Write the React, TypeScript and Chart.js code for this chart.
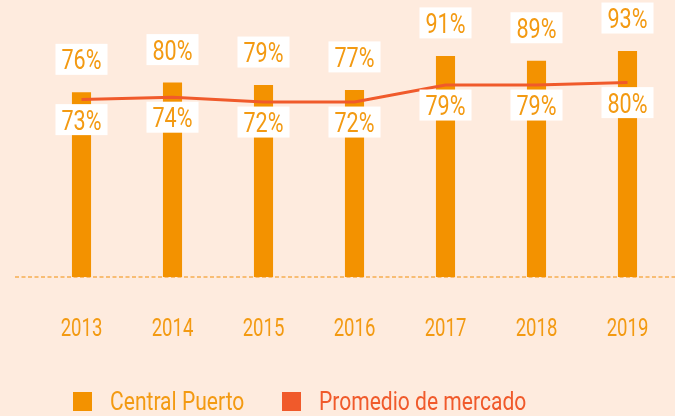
import React, { useEffect, useRef } from 'react';
import { Chart, registerables } from 'chart.js';

Chart.register(...registerables);

const years = ['2013', '2014', '2015', '2016', '2017', '2018', '2019'];
const centralPuerto = [76, 80, 79, 77, 91, 89, 93];
const promedioMercado = [73, 74, 72, 72, 79, 79, 80];
const seriesNames = ['Central Puerto', 'Promedio de mercado'];

const FONT = 'Roboto, "Noto Sans", sans-serif';
const BG = '#FEEBDE';
const ORANGE = '#F39200';
const RED = '#F05A2B';
const LABEL = '#F39A12';

// Draw horizontally condensed text (reference uses a condensed typeface)
function condensedText(
  ctx: CanvasRenderingContext2D,
  text: string,
  x: number,
  y: number,
  size: number,
  sx: number,
  color: string,
  align: CanvasTextAlign
) {
  ctx.save();
  ctx.font = `${size}px ${FONT}`;
  ctx.fillStyle = color;
  ctx.textAlign = align;
  ctx.textBaseline = 'alphabetic';
  ctx.translate(x, y);
  ctx.scale(sx, 1);
  ctx.fillText(text, 0, 0);
  ctx.restore();
}

function measureCondensed(ctx: CanvasRenderingContext2D, text: string, size: number, sx: number) {
  ctx.save();
  ctx.font = `${size}px ${FONT}`;
  const w = ctx.measureText(text).width * sx;
  ctx.restore();
  return w;
}

function drawBox(ctx: CanvasRenderingContext2D, text: string, cx: number, cy: number) {
  const size = 28;
  const sx = 0.77;
  const tw = measureCondensed(ctx, text, size, sx);
  const w = tw + 12;
  const h = 31;
  ctx.fillStyle = '#FFFFFF';
  ctx.fillRect(cx - w / 2, cy - h / 2, w, h);
  condensedText(ctx, text, cx, cy + 10, size, sx, LABEL, 'center');
}

const decorPlugin = {
  id: 'decor',
  beforeDraw(chart: any) {
    const ctx = chart.ctx;
    ctx.save();
    ctx.fillStyle = BG;
    ctx.fillRect(0, 0, chart.width, chart.height);
    ctx.restore();
  },
  beforeDatasetsDraw(chart: any) {
    const ctx = chart.ctx;
    const y = chart.scales.y.getPixelForValue(0);
    ctx.save();
    ctx.strokeStyle = '#F6AE52';
    ctx.lineWidth = 1.5;
    ctx.setLineDash([4, 2.5]);
    ctx.beginPath();
    ctx.moveTo(15, y);
    ctx.lineTo(chart.width, y);
    ctx.stroke();
    ctx.restore();
  },
  afterDatasetsDraw(chart: any) {
    const ctx = chart.ctx;
    ctx.save();
    chart.getDatasetMeta(0).data.forEach((bar: any, i: number) => {
      drawBox(ctx, `${centralPuerto[i]}%`, bar.x, bar.y - 33);
    });
    chart.getDatasetMeta(1).data.forEach((pt: any, i: number) => {
      drawBox(ctx, `${promedioMercado[i]}%`, pt.x, pt.y + 20);
    });
    // category labels along the x scale
    const xs = chart.scales.x;
    const base = chart.scales.y.getPixelForValue(0);
    years.forEach((yr, i) => {
      condensedText(ctx, yr, xs.getPixelForValue(i), base + 59, 26.5, 0.7, LABEL, 'center');
    });
    // legend
    const colors = [ORANGE, RED];
    const textColors = [LABEL, RED];
    const starts = [73, 282];
    seriesNames.forEach((name, i) => {
      ctx.fillStyle = colors[i];
      ctx.fillRect(starts[i], base + 115, 19, 19);
      condensedText(ctx, name, starts[i] + 37, base + 133, 26, 0.81, textColors[i], 'left');
    });
    ctx.restore();
  },
};

export default function App() {
  const ref = useRef<HTMLCanvasElement>(null);
  useEffect(() => {
    document.body.style.margin = '0';
    document.body.style.background = BG;
    const chart = new Chart(ref.current!, {
      type: 'bar',
      data: {
        labels: years,
        datasets: [
          {
            type: 'bar',
            label: seriesNames[0],
            data: centralPuerto,
            backgroundColor: ORANGE,
            barPercentage: 0.21,
            categoryPercentage: 1,
            order: 1,
          },
          {
            type: 'line',
            label: seriesNames[1],
            data: promedioMercado,
            borderColor: RED,
            backgroundColor: RED,
            borderWidth: 3,
            pointRadius: 0,
            tension: 0,
            order: 0,
          },
        ] as any,
      },
      options: {
        animation: false,
        responsive: false,
        layout: { padding: { left: 36, right: 2, top: 0, bottom: 139 } },
        scales: {
          x: { display: false },
          y: { display: false, min: 0, max: 114 },
        },
        plugins: {
          tooltip: { enabled: false },
          legend: { display: false },
        },
      },
      plugins: [decorPlugin],
    });
    return () => chart.destroy();
  }, []);
  return <canvas ref={ref} width={675} height={416} style={{ display: 'block' }} />;
}
